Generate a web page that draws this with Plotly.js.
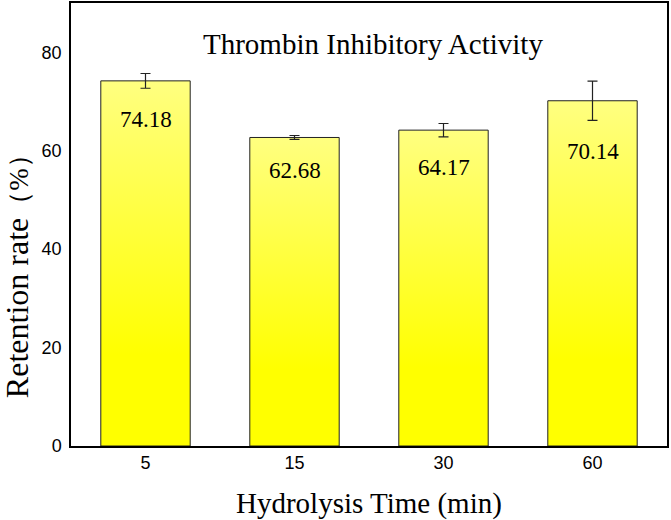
<!DOCTYPE html>
<html>
<head>
<meta charset="utf-8">
<script src="https://cdn.plot.ly/plotly-3.0.1.min.js"></script>
<style>
  html, body { margin: 0; padding: 0; background: #fff; }
  #myDiv { width: 671px; height: 520px; }
</style>
</head>
<body>
<div id="myDiv"></div>
<script>
// hydrolysis time (min) and retention rate (%)
var times = ['5', '15', '30', '60'];
var retention = [74.18, 62.68, 64.17, 70.14];
var errors = [1.5, 0.4, 1.35, 4.0];
var yTicks = [0, 20, 40, 60, 80];

var serif = 'Liberation Serif, Times New Roman, serif';
var sans = 'Liberation Sans, Arial, sans-serif';

var trace1 = {
  x: times,
  y: retention,
  type: 'bar',
  marker: {
    color: '#ffff44',
    line: { color: '#222', width: 1 }
  },
  error_y: {
    type: 'data',
    array: errors,
    visible: true,
    color: '#222',
    thickness: 1.2,
    width: 5
  },
  hoverinfo: 'x+y'
};

// value labels sit inside each bar, just under the lower error cap
var labels = times.map(function (t, i) {
  return {
    x: i,
    y: retention[i] - errors[i],
    xref: 'x',
    yref: 'y',
    yanchor: 'middle',
    text: retention[i].toFixed(2),
    showarrow: false,
    yshift: -31,
    font: { family: serif, size: 23, color: '#000' }
  };
});

var layout = {
  width: 671,
  height: 520,
  margin: { l: 71, r: 4, t: 3, b: 74 },
  paper_bgcolor: '#fff',
  plot_bgcolor: '#fff',
  showlegend: false,
  bargap: 0.4,
  xaxis: {
    type: 'category',
    range: [-0.5, 3.5],
    showline: true,
    linecolor: '#000',
    linewidth: 1.5,
    mirror: true,
    ticks: '',
    tickfont: { family: sans, size: 18, color: '#000' },
    ticklabelstandoff: 0
  },
  yaxis: {
    range: [0, 90],
    tickvals: yTicks,
    showgrid: false,
    zeroline: false,
    showline: true,
    linecolor: '#000',
    linewidth: 1.5,
    mirror: true,
    ticks: '',
    ticklabelstandoff: 4,
    tickfont: { family: sans, size: 18, color: '#000' }
  },
  annotations: labels.concat([
    {
      x: 0.507,
      y: 0.907,
      xref: 'paper',
      yref: 'paper',
      yanchor: 'middle',
      text: 'Thrombin Inhibitory Activity',
      showarrow: false,
      font: { family: serif, size: 29, color: '#000' }
    },
    {
      x: 0.5,
      y: 0,
      xref: 'paper',
      yref: 'paper',
      yanchor: 'middle',
      yshift: -57,
      text: 'Hydrolysis Time (min)',
      showarrow: false,
      font: { family: serif, size: 29, color: '#000' }
    },
    {
      x: 0,
      y: 0.397,
      xref: 'paper',
      yref: 'paper',
      xanchor: 'center',
      yanchor: 'middle',
      xshift: -54,
      text: 'Retention rate<span style="font-size:27px">（%）</span>',
      textangle: -90,
      showarrow: false,
      font: { family: serif, size: 32, color: '#000' }
    }
  ])
};

function paintGradient(gd) {
  var svg = gd.querySelector('.main-svg');
  var ns = 'http://www.w3.org/2000/svg';
  var defs = svg.querySelector('defs');
  if (!document.getElementById('barGrad')) {
    var grad = document.createElementNS(ns, 'linearGradient');
    grad.setAttribute('id', 'barGrad');
    grad.setAttribute('x1', '0'); grad.setAttribute('y1', '0');
    grad.setAttribute('x2', '0'); grad.setAttribute('y2', '1');
    [['0', '#ffff80'], ['0.75', '#ffff00'], ['1', '#ffff00']].forEach(function (s) {
      var stop = document.createElementNS(ns, 'stop');
      stop.setAttribute('offset', s[0]);
      stop.setAttribute('stop-color', s[1]);
      grad.appendChild(stop);
    });
    defs.appendChild(grad);
  }
  gd.querySelectorAll('.bars .point path').forEach(function (p) {
    p.style.fill = 'url(#barGrad)';
  });
}

Plotly.newPlot('myDiv', [trace1], layout, { displayModeBar: false }).then(function (gd) {
  paintGradient(gd);
  gd.on('plotly_afterplot', function () { paintGradient(gd); });
});
</script>
</body>
</html>
